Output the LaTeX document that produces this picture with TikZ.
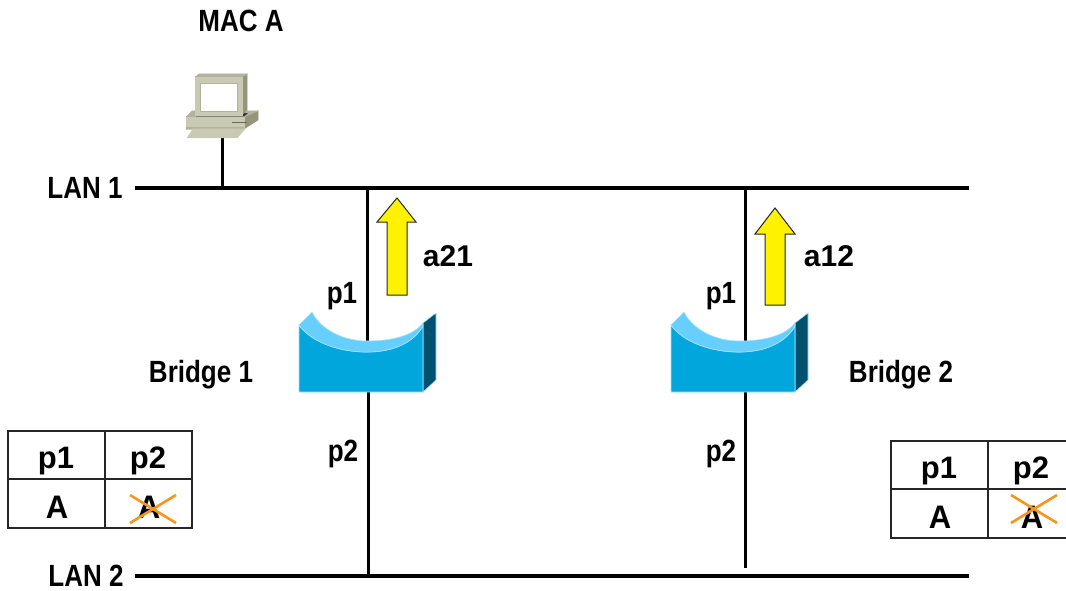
\documentclass[tikz,border=0pt]{standalone}
\usepackage{fontspec}
\setmainfont{Liberation Sans}
\definecolor{bridgefront}{HTML}{00A6DC}
\definecolor{bridgelight}{HTML}{66CFFF}
\definecolor{bridgeside}{HTML}{00506E}
\definecolor{bridgeedge}{HTML}{A8E2F8}
\definecolor{pcface}{HTML}{C9CAB4}
\definecolor{pcside}{HTML}{94957B}
\definecolor{pctop}{HTML}{B2B39C}
\definecolor{crossout}{HTML}{F7941D}
% Text helpers: tall bold labels, set with a vertical stretch
\newcommand{\tall}[1]{\scalebox{1}[1.18]{#1}}
\newcommand{\bodytxt}[1]{\scalebox{1}[1.05]{#1}}
\tikzset{
  x=1pt,y=-1pt,
  lan/.style={line width=4pt,black},
  drop/.style={line width=3pt,black},
  lbl/.style={font=\bfseries\fontsize{26}{28}\selectfont,inner sep=0pt,text=black,anchor=base},
  biglbl/.style={font=\bfseries\fontsize{30}{32}\selectfont,inner sep=0pt,text=black,anchor=base},
  celltext/.style={font=\bfseries\fontsize{31}{33}\selectfont,inner sep=0pt,text=black,anchor=base},
  grid/.style={draw=black!85,line width=1.6pt},
  strike/.style={draw=crossout,line width=2.6pt},
  uparrow/.style={draw=black!85,line width=1pt,fill=yellow},
  bface/.style={fill=bridgefront,draw=bridgeedge,line width=0.8pt},
  blight/.style={fill=bridgelight,draw=bridgeedge,line width=0.6pt},
  bside/.style={fill=bridgeside,draw=bridgeedge,line width=0.6pt},
  pc/.style={fill=pcface,draw=pcface,line width=0.5pt},
  pcs/.style={fill=pcside,draw=pcside,line width=0.5pt},
  pct/.style={fill=pctop,draw=pctop,line width=0.5pt}
}
% Bridge icon: a concave-topped block, positioned by its lower-left corner
\newcommand{\bridgeicon}[2]{%
  \begin{scope}[shift={(#1,#2)}]
    \path[bside] (124,-69) -- (137,-79) -- (137,-12) -- (124,0) -- cycle;
    \path[bface] (0,-67) .. controls (12,-50) and (40,-40) .. (68,-40)
       .. controls (95,-40) and (115,-50) .. (124,-66) -- (124,0) -- (0,0) -- cycle;
    \path[blight] (0,-67) -- (13,-80) .. controls (22,-62) and (45,-51) .. (68,-51)
       .. controls (92,-51) and (114,-56) .. (124,-69) -- (124,-66)
       .. controls (115,-50) and (95,-40) .. (68,-40)
       .. controls (40,-40) and (12,-50) .. (0,-67) -- cycle;
  \end{scope}}
% Two-row port table: upper-left corner, width, then the left and top of the cross
\newcommand{\porttable}[5]{%
  \begin{scope}[shift={(#1,#2)}]
    \path[fill=white] (0,0) rectangle (#3,97);
    \draw[grid] (0,0) rectangle (#3,97);
    \draw[grid] (0,48) -- (#3,48);
    \draw[grid] (97,0) -- (97,97);
    \node[celltext] at (48,37) {p1};
    \node[celltext] at (140,37) {p2};
    \node[celltext] at (49,87) {\bodytxt{A}};
    \node[celltext] at (141,87) {\bodytxt{A}};
    \draw[strike] (#4,#5) -- ({#4+46},{#5+28});
    \draw[strike] (#4,{#5+28}) -- ({#4+46},#5);
  \end{scope}}
\begin{document}
\begin{tikzpicture}
\useasboundingbox[fill=white] (0,0) rectangle (1066,591);

% LAN segments
\coordinate (l1a) at (135,188);
\coordinate (l1b) at (969,188);
\coordinate (l2a) at (135,576);
\coordinate (l2b) at (969,576);
\draw[lan] (l1a) -- (l1b);
\draw[lan] (l2a) -- (l2b);

% Bridge drops: each bridge sits on its drop, upper and lower runs meet behind it
\coordinate (b1top) at (367.5,188);
\coordinate (b1mid) at (367.5,360);
\coordinate (b1low) at (368.5,360);
\coordinate (b1bot) at (368.5,576);
\coordinate (b2top) at (745,188);
\coordinate (b2bot) at (745,568);
\draw[drop] (b1top) -- (b1mid);
\draw[drop] (b1low) -- (b1bot);
\draw[drop] (b2top) -- (b2bot);

% Host drop
\coordinate (hosttop) at (222,136);
\coordinate (hostbot) at (222,188);
\draw[drop] (hosttop) -- (hostbot);

% Host computer
\path[pcs] (244,117) -- (258,111) -- (258,120) -- (244,129) -- cycle;
\path[pct] (186,117) -- (192,111) -- (258,111) -- (244,117) -- cycle;
\path[pc] (186,117) rectangle (244,129);
\path[fill=pctop] (186,127.5) rectangle (244,129);
\path[fill=black!80] (196,115) -- (248,113) -- (244,116.5) -- (196,116.5) -- cycle;
\path[pcs] (242,77) -- (247,74) -- (247,110) -- (242,115) -- cycle;
\path[pct] (195,77) -- (199,74) -- (247,74) -- (242,77) -- cycle;
\path[pc] (195,77) rectangle (242,115);
\path[fill=white,draw=pctop,line width=0.7pt] (200,83) rectangle (237,111);
\path[fill=pcside!70!black] (232,122) rectangle (247,123.5);
\path[pc] (193,129) -- (245,129) -- (237,138) -- (187,138) -- cycle;

% Bridges
\bridgeicon{299}{392}
\bridgeicon{671}{392}

% Learning arrows
\path[uparrow] (387,295) -- (387,222) -- (377,222) -- (397,198) -- (416,222) -- (407,222) -- (407,295) -- cycle;
\path[uparrow] (765,305) -- (765,234) -- (755,234) -- (775,208) -- (795,234) -- (785,234) -- (785,305) -- cycle;

% Labels
\node[lbl] (mac) at (241,32) {\tall{MAC A}};
\node[lbl] (lan1) at (85,198) {\tall{LAN 1}};
\node[lbl] (lan2) at (86,586) {\tall{LAN 2}};
\node[lbl] (b1p1) at (342,303) {\tall{p1}};
\node[lbl] (b1p2) at (343,461) {\tall{p2}};
\node[lbl] (b2p1) at (721,303) {\tall{p1}};
\node[lbl] (b2p2) at (721,461) {\tall{p2}};
\node[lbl] (b1name) at (201,382) {\tall{Bridge 1}};
\node[lbl] (b2name) at (901,382) {\tall{Bridge 2}};
\node[biglbl] (a21) at (448,266) {a21};
\node[biglbl] (a12) at (829,266) {a12};

% Port tables
\porttable{8}{431}{184}{122}{64}
\porttable{891}{441}{184}{120}{54}
\end{tikzpicture}
\end{document}
